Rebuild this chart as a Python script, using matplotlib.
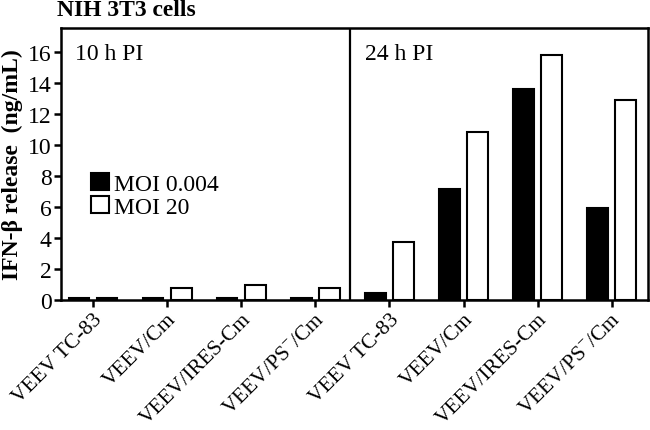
import matplotlib
matplotlib.use("Agg")
import matplotlib.pyplot as plt
import numpy as np

plt.rcParams['font.family'] = ['Liberation Serif', 'DejaVu Serif']
plt.rcParams['mathtext.fontset'] = 'custom'
plt.rcParams['mathtext.rm'] = 'Liberation Serif'

categories = ["VEEV TC-83", "VEEV/Cm", "VEEV/IRES-Cm", "VEEV/PS$^{-}$/Cm",
              "VEEV TC-83", "VEEV/Cm", "VEEV/IRES-Cm", "VEEV/PS$^{-}$/Cm"]
moi_low = [0.15, 0.15, 0.15, 0.15, 0.45, 7.15, 13.6, 5.9]
moi_high = [0.15, 0.75, 0.95, 0.77, 3.75, 10.8, 15.8, 12.9]
yticks = [0, 2, 4, 6, 8, 10, 12, 14, 16]

fig = plt.figure(figsize=(6.5, 4.31), dpi=100)
ax = fig.add_axes([0.094, 0.302, 0.903, 0.631])

x = np.arange(len(categories))
w = 0.28
off = 0.19
ax.bar(x - off, moi_low, w, color='black', edgecolor='black', linewidth=1.5, label='MOI 0.004')
ax.bar(x + off, moi_high, w, color='white', edgecolor='black', linewidth=1.5, label='MOI 20')

ax.set_xlim(-0.43, 7.49)
ax.set_ylim(0, 17.55)
ax.set_yticks(yticks)
ax.set_yticklabels([str(v) for v in yticks], fontsize=17)
ax.set_xticks(x)
ax.set_xticklabels(categories, rotation=45, ha='right', va='top',
                   rotation_mode='anchor', fontsize=15.5)
ax.axvline(3.47, color='black', linewidth=1.6)

for s in ax.spines.values():
    s.set_linewidth(1.8)
ax.tick_params(axis='both', width=1.8, length=5, direction='out')
ax.tick_params(axis='x', pad=2)
ax.tick_params(axis='y', pad=2)

ax.text(0.024, 0.945, "10 h PI", transform=ax.transAxes, fontsize=17, va='top', ha='left')
ax.text(0.518, 0.945, "24 h PI", transform=ax.transAxes, fontsize=17, va='top', ha='left')

ax.set_ylabel("IFN-β release  (ng/mL)", fontsize=17, fontweight='bold', labelpad=3)
fig.text(0.088, 0.975, "NIH 3T3 cells", fontsize=17, fontweight='bold', ha='left', va='center')

leg = ax.legend(loc='center left', bbox_to_anchor=(0.035, 0.385), frameon=False,
                fontsize=17, handlelength=0.75, handleheight=0.75, handletextpad=0.2,
                labelspacing=0.05, borderaxespad=0)

fig.savefig("out.png", dpi=100)
